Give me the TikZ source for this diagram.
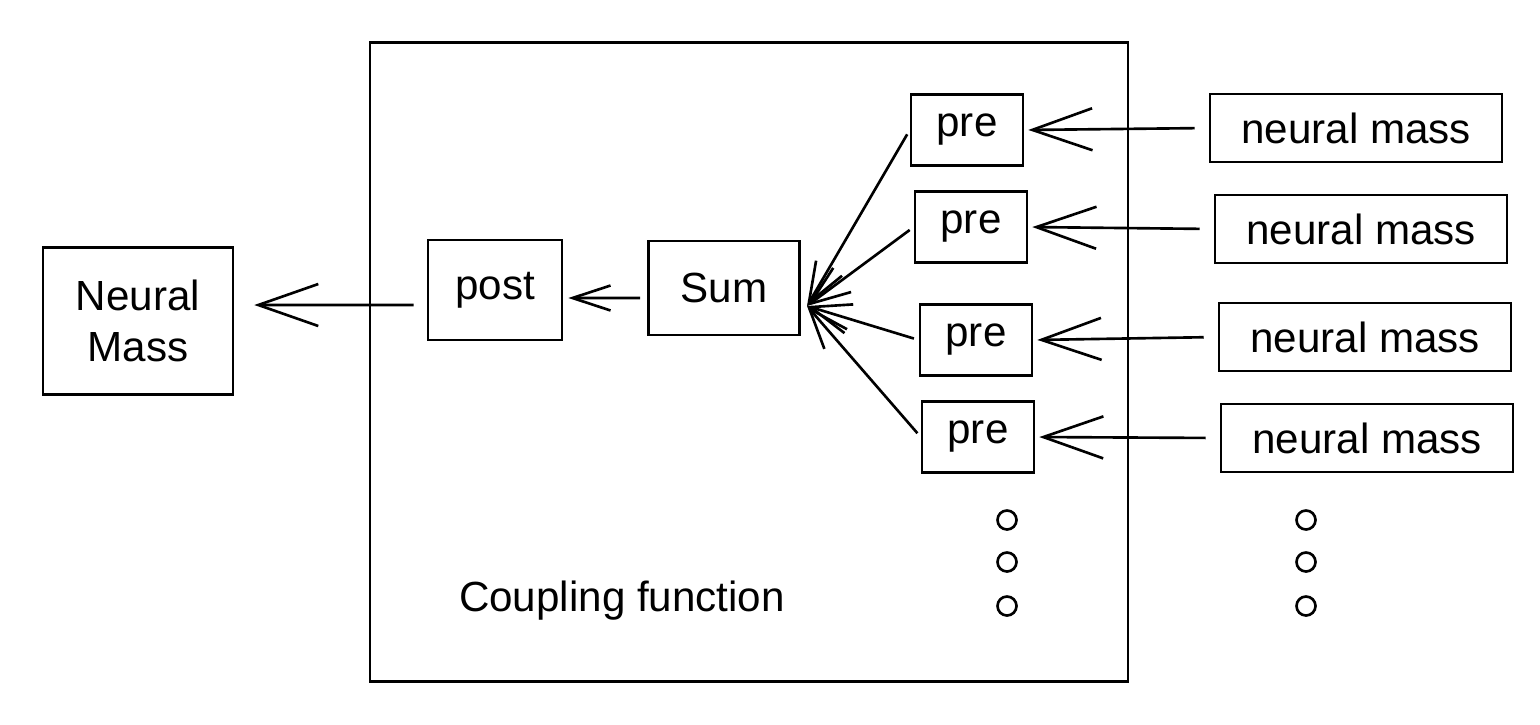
\documentclass[tikz,border=0pt]{standalone}
\usepackage{fontspec}
\setmainfont{Liberation Sans}
\usetikzlibrary{arrows.meta}
\begin{document}
\begin{tikzpicture}[x=0.02cm, y=-0.02cm, line width=1.5pt,
    every node/.style={inner sep=0pt, rectangle, text centered, font=\fontsize{24}{29}\selectfont},
    block/.style={draw, minimum width=2.68cm, minimum height=2cm},
    preblock/.style={draw, minimum width=2.24cm, minimum height=1.42cm},
    massblock/.style={draw, minimum width=5.84cm, minimum height=1.36cm},
    frame/.style={draw, minimum width=15.16cm, minimum height=12.78cm},
    dot/.style={draw, circle, minimum size=0.38cm},
    bigarrow/.style={-{Straight Barb[length=1.2cm, width=0.84cm]}},
    midarrow/.style={-{Straight Barb[length=0.8cm, width=0.6cm]}},
    smallarrow/.style={-{Straight Barb[length=0.76cm, width=0.5cm]}}]
\useasboundingbox (0,0) rectangle (1540,724);

\node [frame] (cf) at (749,362) {};
\node (cflabel) at (622,601) {Coupling function};

\node [block, minimum width=3.8cm, minimum height=2.94cm, align=center] (nm) at (138,321) {Neural\\Mass};
\node [block] (post) at (495,290) {post};
\node [block, minimum width=3.02cm, minimum height=1.88cm] (sum) at (724,288) {Sum};
\coordinate (hub) at (807,306);

\foreach \i/\xp/\yp/\xn/\yn in {1/967/130/1356/128, 2/971/227/1361/229, 3/976/340/1365/337, 4/978/437/1367/438}
{
\node [preblock] (pre\i) at (\xp,\yp) {pre};
\node [massblock] (mass\i) at (\xn,\yn) {neural mass};
\draw [bigarrow, shorten <=0.28cm, shorten >=0.08cm] (mass\i.west) -- (pre\i.east);
\draw [midarrow, shorten <=0.1cm] (pre\i.west) -- (hub);
}

\draw [smallarrow, shorten <=0.14cm, shorten >=0.1cm] ([yshift=-0.2cm]sum.west) -- ([yshift=-0.16cm]post.east);
\draw [bigarrow, shorten <=0.26cm, shorten >=0.4cm] ([yshift=-0.3cm]post.west) -- ([yshift=0.32cm]nm.east);

% dots under the columns
\foreach \j/\yd in {1/520, 2/562, 3/606}
{
\node [dot] (dpre\j) at (1007,\yd) {};
\node [dot] (dmass\j) at (1306,\yd) {};
}

\end{tikzpicture}
\end{document}
